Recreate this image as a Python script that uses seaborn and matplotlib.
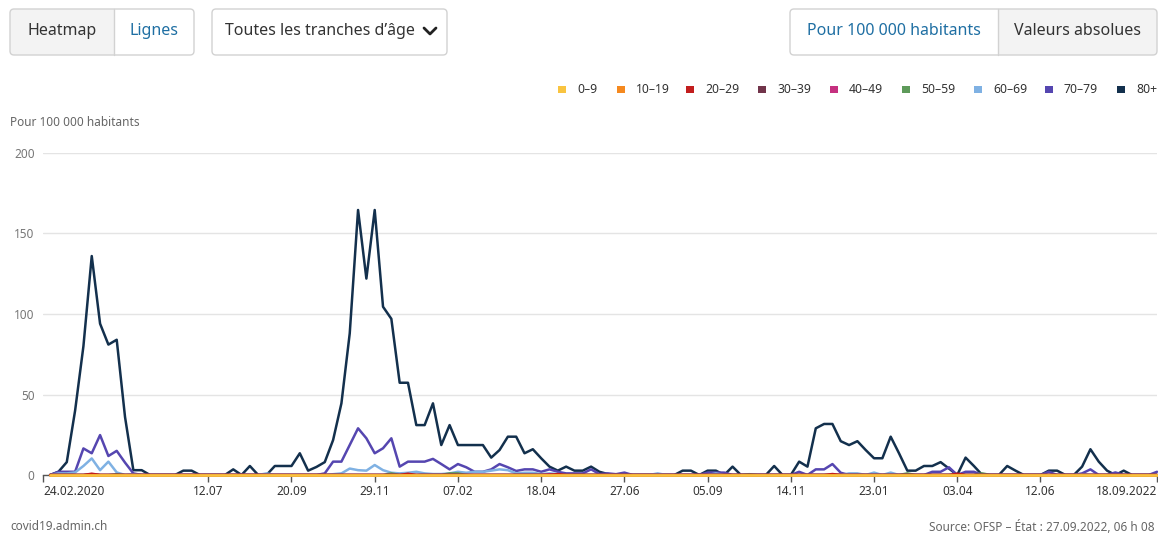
import matplotlib
matplotlib.use("Agg")
import matplotlib.pyplot as plt
from matplotlib.patches import FancyBboxPatch, Rectangle
from matplotlib.lines import Line2D
from matplotlib.colors import to_hex
from matplotlib.transforms import IdentityTransform
import pandas as pd
import seaborn as sns

# Semaines (dimanche) du 01.03.2020 au 18.09.2022
weeks = pd.date_range("2020-03-01", "2022-09-18", freq="W-SUN")

groups = ["0–9", "10–19", "20–29", "30–39", "40–49", "50–59", "60–69", "70–79", "80+"]
colors = ["#f9c440", "#f5891f", "#c21d1d", "#71344a", "#c5307f",
          "#5e9a5a", "#7fb1e3", "#5546b0", "#13304d"]

# Décès pour 100 000 habitants
s80 = [0, 2, 8, 40, 80, 136, 94, 81, 84, 36,
       3, 3, 0, 0, 0, 0, 2.7, 2.7, 0, 0,
       0, 0, 3.5, 0, 5.6, 0, 0, 5.6, 5.6, 5.6,
       13.5, 2.7, 5, 8, 21.7, 44.5, 88, 164.6, 122, 164.6,
       104.5, 97, 57.3, 57.3, 31, 31, 44.5, 18.6, 31, 18.6,
       18.6, 18.6, 18.6, 10.8, 15.5, 23.8, 23.8, 13.5, 16, 10.4,
       5.2, 2.7, 5.2, 2.7, 2.7, 5.2, 2, 0.6, 0, 0,
       0, 0, 0, 0, 0, 0, 2.7, 2.7, 0, 2.7,
       2.7, 0, 5.2, 0, 0, 0, 0, 5.6, 0, 0,
       8.3, 5.2, 29, 31.7, 31.7, 21, 18.6, 21, 15.5, 10.4,
       10.4, 23.8, 13.5, 2.7, 2.7, 5.6, 5.6, 8, 4, 0,
       10.8, 5.6, 0, 0, 0, 5.6, 2.7, 0, 0, 0,
       2.7, 2.7, 0, 0, 5.2, 16, 8.3, 2.7, 0, 2.7,
       0, 0, 0, 0]
s70 = [0, 2, 2, 2, 16.5, 13.5, 24.8, 11.8, 15, 7.7,
       1, 0, 0, 0, 0, 0, 0, 0, 0, 0,
       0, 0, 0, 0, 0, 0, 0, 0, 0, 0,
       0, 0, 0, 1, 8.3, 8.3, 18.6, 29, 22.8, 13.5,
       16.6, 22.8, 5.2, 8.3, 8.3, 8.3, 10, 6.8, 3.5, 6.8,
       4.8, 2, 2, 3.5, 6.8, 4.8, 2.5, 3.5, 3.5, 2,
       3.5, 2, 1, 1, 1, 3.5, 0.6, 1, 0.5, 1.5,
       0, 0, 0, 0, 0, 0, 0, 0, 0, 1.5,
       1.5, 1.5, 0, 0, 0, 0, 0, 0, 0, 0,
       2, 0, 3.5, 3.5, 6.8, 1.4, 0, 0, 0, 0,
       0, 0, 0, 0, 0, 0, 2, 2, 4.8, 0,
       2, 2, 0, 0, 0, 0, 0, 0, 0, 0,
       2, 0, 0, 0, 1, 3.5, 0, 0, 1.6, 0,
       0, 0, 0, 2]
s60 = [0, 1, 1, 1.6, 5.6, 10.3, 3, 8.3, 1.6, 0,
       0.5, 0, 0, 0, 0, 0, 0, 0, 0, 0,
       0, 0, 0, 0, 0, 0, 1, 0, 0, 0,
       0, 0, 0, 0, 0.5, 1, 4, 3, 2.7, 6.2,
       3, 1.4, 1, 1.4, 2, 1, 0.6, 0.6, 1, 2,
       1.4, 2, 2, 2.7, 3.5, 3, 1, 1.4, 1.4, 0.6,
       1, 0.6, 0, 0, 0, 0, 0, 0, 0, 0,
       0, 0, 0, 1, 0, 0, 0, 0, 0, 0,
       1, 0, 0, 0, 0, 0, 0, 0, 0, 0,
       0, 0, 0, 0, 0, 0, 1, 1, 0, 1.5,
       0, 1.5, 0, 0, 0, 0, 0, 0, 0, 0,
       0, 0, 0, 0, 0, 0, 0, 0, 0, 0,
       0, 0, 0, 0, 0.5, 0, 0, 0, 0, 0,
       0, 0, 0, 0]
s50 = [0, 0, 0, 0, 0, 0, 0, 0, 0.5, 0,
       0, 0, 0, 0, 0, 0, 0, 0, 0, 0,
       0, 0, 0, 0, 0, 0, 0, 0, 0, 0,
       0, 0, 0, 0, 0, 0, 0, 0, 0, 0,
       0, 1, 0, 0, 0, 0, 0, 0, 1, 1,
       0, 0, 0, 0, 0, 0, 0, 0, 0, 0,
       0, 0, 0, 0, 0, 0, 0, 0, 0, 0,
       0, 0, 0, 0, 0, 0, 0, 0, 0, 0,
       0, 0, 0, 0, 0.5, 0, 0, 0, 0, 0,
       0, 0, 0, 0, 0, 0, 0, 0, 0, 0,
       0, 0, 0, 1, 0, 0, 0, 0, 0, 0,
       0, 0, 1, 0, 0, 0, 0, 0, 0, 0,
       0, 0, 0, 0, 0, 0, 0, 0, 0, 0,
       0, 0, 0, 0]
s40 = [0, 0, 0, 0, 0, 0, 0, 0, 0, 0,
       0, 0, 0, 0, 0, 0, 0, 0, 0, 0,
       0, 0, 0, 0, 0, 0, 0, 0, 0, 0,
       0, 0, 0, 0, 0, 0, 0, 0, 0, 0,
       0, 0, 0, 0, 0, 0, 0, 0, 0, 0,
       0, 0, 0, 0, 0, 0, 0, 0, 0, 0,
       0.5, 0, 0, 0, 0, 0, 0, 0, 0, 0,
       0, 0, 0, 0, 0, 0, 0, 0, 0, 0,
       0, 0, 0, 0, 0, 0, 0, 0, 0, 0,
       0, 0, 0, 0, 0, 0, 0, 0, 0, 0,
       0, 0, 0, 0, 0, 0, 0, 0, 0, 0,
       0, 0, 0, 0, 0, 0, 0, 0, 0, 0,
       0, 0, 0, 0, 0, 0, 0, 0, 0, 0,
       0, 0, 0, 0]
s30 = [0, 0, 0, 0, 0, 0.5, 0, 0, 0, 0,
       0, 0, 0, 0, 0, 0, 0, 0, 0, 0,
       0, 0, 0, 0, 0, 0, 0, 0, 0, 0,
       0, 0, 0, 0, 0, 0, 0, 0, 0, 0,
       0, 0, 0, 0, 0, 0, 0, 0, 0, 0,
       0, 0, 0, 0, 0, 0, 0, 0, 0, 0,
       0, 0, 0, 0, 0, 0, 0, 0, 0, 0,
       0, 0, 0, 0, 0, 0, 0, 0, 0, 0,
       0, 0, 0, 0, 0, 0, 0, 0, 0, 0,
       0, 0, 0, 0, 0, 0, 0, 0, 0, 0,
       0, 0, 0, 0, 0, 0, 0, 0, 0, 0,
       0, 0, 0, 0, 0, 0, 0, 0, 0, 0,
       0, 0, 0, 0, 0, 0, 0, 0, 0, 0,
       0, 0, 0, 0]
s20 = [0, 0, 0, 0, 0, 0.8, 0, 0, 0, 0,
       0, 0, 0, 0, 0, 0, 0, 0, 0, 0,
       0, 0, 0, 0, 0, 0, 0, 0, 0, 0,
       0, 0, 0, 0, 0, 0, 0, 0, 0, 0,
       0, 0, 0, 0.8, 0, 0, 0, 0, 0, 0,
       0, 0, 0, 0, 0, 0, 0, 0, 0, 0,
       0, 0.6, 0, 0, 0, 0, 0, 0, 0, 0,
       0, 0, 0, 0, 0, 0, 0, 0, 0, 0,
       0, 0, 0, 0, 0, 0, 0, 0, 0, 0,
       0, 0, 0, 0, 0.6, 0, 0, 0, 0, 0,
       0, 0, 0, 0, 0, 0, 0, 0, 0, 0.8,
       0, 0, 0, 0, 0, 0, 0, 0, 0, 0,
       0, 0, 0, 0, 0, 0, 0, 0, 0, 0,
       0, 0, 0, 0]
s10 = [0] * 134
s0 = [0] * 134

tick_dates = ["2020-02-24", "2020-07-12", "2020-09-20", "2020-11-29", "2021-02-07",
              "2021-04-18", "2021-06-27", "2021-09-05", "2021-11-14", "2022-01-23",
              "2022-04-03", "2022-06-12", "2022-09-18"]
tick_labels = ["24.02.2020", "12.07", "20.09", "29.11", "07.02", "18.04", "27.06",
               "05.09", "14.11", "23.01", "03.04", "12.06", "18.09.2022"]

df = pd.DataFrame({"semaine": weeks, "0–9": s0, "10–19": s10, "20–29": s20,
                   "30–39": s30, "40–49": s40, "50–59": s50, "60–69": s60,
                   "70–79": s70, "80+": s80})
df_long = df.melt(id_vars="semaine", var_name="age", value_name="valeur")

sns.set_theme(style="white")
plt.rcParams["font.family"] = ["Noto Sans", "DejaVu Sans"]

W, H = 1158, 533
fig = plt.figure(figsize=(W / 100, H / 100), dpi=100)
ax = fig.add_axes([43 / W, 1 - 475 / H, 1114 / W, 322 / H])

palette = dict(zip(groups, colors))
sns.lineplot(data=df_long, x="semaine", y="valeur", hue="age",
             hue_order=groups, palette=palette,
             linewidth=1.8, legend=False, ax=ax, clip_on=False)

# la tranche 0-9 passe au-dessus, 80+ en dessous
for line in ax.get_lines():
    c = to_hex(line.get_color())
    if c in colors:
        line.set_zorder(20 - colors.index(c))

ax.set_xlim(pd.Timestamp("2020-02-24"), pd.Timestamp("2022-09-18"))
ax.set_ylim(0, 200)
ax.set_yticks([0, 50, 100, 150, 200])
ax.set_xticks(pd.to_datetime(tick_dates))
ax.set_xticklabels(tick_labels)
xl = ax.get_xticklabels()
xl[0].set_ha("left")
xl[-1].set_ha("right")

ax.yaxis.grid(True, color="#e4e4e4", linewidth=1)
ax.xaxis.grid(False)
ax.set_axisbelow(True)
for s in ["top", "right", "left"]:
    ax.spines[s].set_visible(False)
ax.spines["bottom"].set_color("#555555")
ax.spines["bottom"].set_linewidth(1)
ax.tick_params(axis="x", bottom=True, length=5, width=1, color="#555555",
               labelsize=8.5, labelcolor="#333333", pad=2)
ax.tick_params(axis="y", length=0, labelsize=8.5, labelcolor="#777777", pad=6)
ax.set_xlabel("")
ax.set_ylabel("")

# --- éléments d'interface (coordonnées en pixels, origine en haut) ---
T = IdentityTransform()


def box(x0, y0, x1, y1, fc, ec="none", r=4, z=1):
    p = FancyBboxPatch((x0, H - y1), x1 - x0, y1 - y0,
                       boxstyle=f"round,pad=0,rounding_size={r}",
                       fc=fc, ec=ec, lw=1, transform=T, zorder=z)
    fig.add_artist(p)


def txt(x, y, s, **kw):
    fig.text(x, H - y, s, transform=T, va="center", **kw)


border = "#d2d2d2"
blue = "#1f6fa3"
grey_bg = "#f3f3f3"

# Heatmap | Lignes
box(10, 9, 194, 55, grey_bg)
box(114, 9, 194, 55, "white")
fig.add_artist(Rectangle((114, H - 55), 8, 46, fc="white", ec="none", transform=T, zorder=1))
box(10, 9, 194, 55, "none", border, z=2)
fig.add_artist(Line2D([114, 114], [H - 55, H - 9], color=border, lw=1, transform=T))
txt(62, 31, "Heatmap", ha="center", fontsize=11.5, color="#333333")
txt(154, 31, "Lignes", ha="center", fontsize=11.5, color=blue)

# menu déroulant
box(212, 9, 447, 55, "white", border)
txt(225, 31, "Toutes les tranches d’âge", ha="left", fontsize=11.5, color="#333333")
fig.add_artist(Line2D([424, 430, 436], [H - 28, H - 34, H - 28], color="#222222",
                      lw=2, transform=T))

# Pour 100 000 habitants | Valeurs absolues
box(790, 9, 1157, 55, grey_bg)
box(790, 9, 998, 55, "white")
fig.add_artist(Rectangle((990, H - 55), 8, 46, fc="white", ec="none", transform=T, zorder=1))
box(790, 9, 1157, 55, "none", border, z=2)
fig.add_artist(Line2D([998, 998], [H - 55, H - 9], color=border, lw=1, transform=T))
txt(894, 31, "Pour 100 000 habitants", ha="center", fontsize=11.5, color=blue)
txt(1077, 31, "Valeurs absolues", ha="center", fontsize=11.5, color="#333333")

# légende
leg_sq = [558, 617, 686, 758, 830, 902, 974, 1045, 1117]
for xs, g, c in zip(leg_sq, groups, colors):
    fig.add_artist(Rectangle((xs, H - 93), 7.5, 7.5, fc=c, ec="none", transform=T))
    txt(xs + 19, 89.5, g, ha="left", fontsize=8.8, color="#333333")

txt(10, 123, "Pour 100 000 habitants", ha="left", fontsize=8.5, color="#666666")
txt(10, 527, "covid19.admin.ch", ha="left", fontsize=8.5, color="#666666")
txt(1155, 527, "Source: OFSP – État : 27.09.2022, 06 h 08", ha="right",
    fontsize=8.5, color="#666666")

fig.savefig("out.png", dpi=100)
